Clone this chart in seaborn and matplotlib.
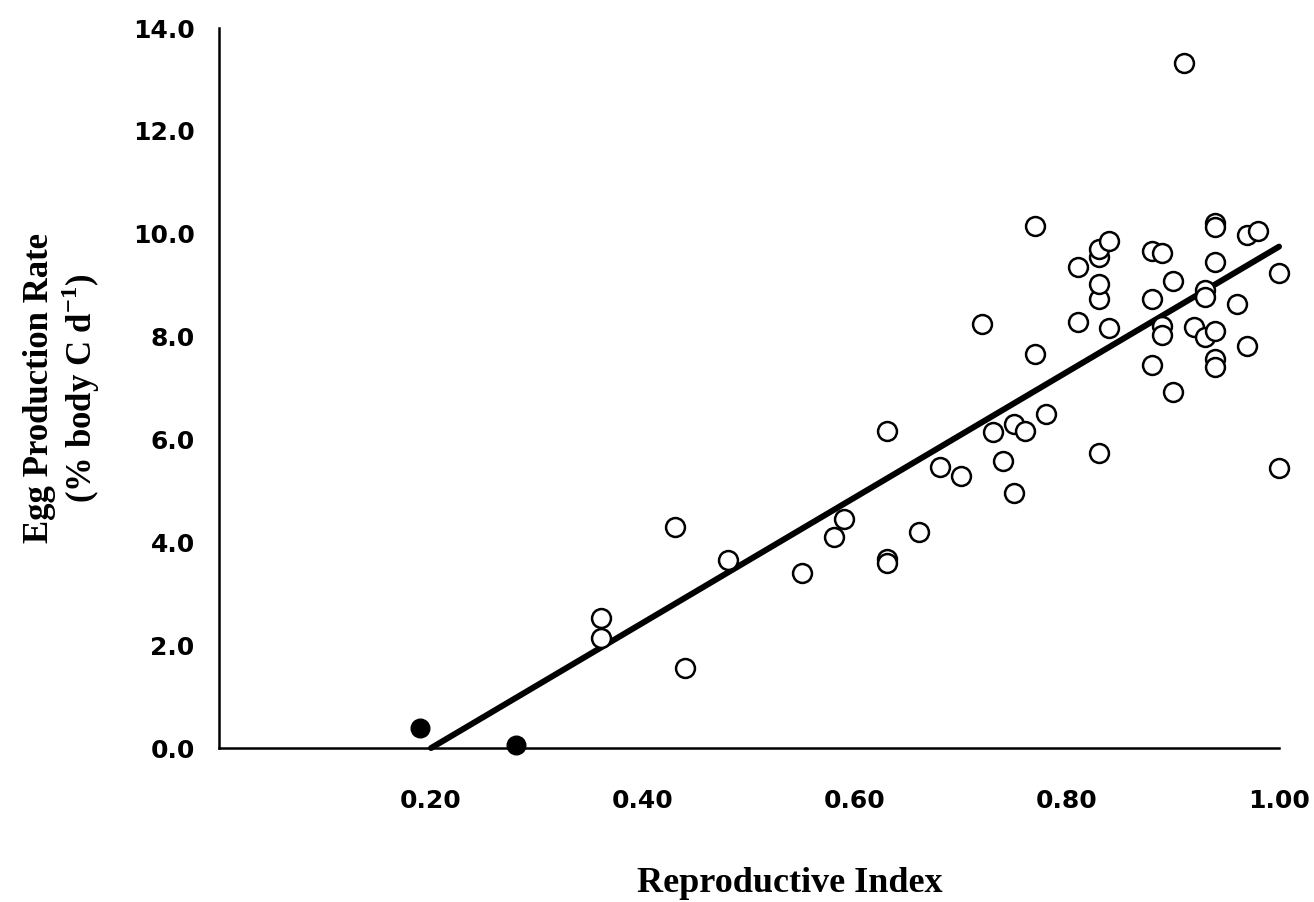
import matplotlib
matplotlib.use("Agg")
import matplotlib.pyplot as plt
import seaborn as sns
import pandas as pd

# Open circles (data)
ri_open = [0.36, 0.36, 0.43, 0.44, 0.48, 0.55, 0.58, 0.59, 0.63, 0.63, 0.63,
           0.66, 0.68, 0.70, 0.72, 0.73, 0.74, 0.75, 0.75, 0.76, 0.77, 0.77,
           0.78, 0.81, 0.81, 0.83, 0.83, 0.83, 0.83, 0.83, 0.84, 0.84, 0.88,
           0.88, 0.88, 0.89, 0.89, 0.89, 0.90, 0.90, 0.91, 0.92, 0.93, 0.93,
           0.93, 0.94, 0.94, 0.94, 0.94, 0.94, 0.94, 0.96, 0.97, 0.97, 0.98,
           1.00, 1.00]
epr_open = [2.53, 2.14, 4.30, 1.55, 3.65, 3.40, 4.10, 4.45, 6.17, 3.68, 3.60,
            4.20, 5.47, 5.29, 8.25, 6.15, 5.58, 4.95, 6.30, 6.17, 10.16, 7.67,
            6.50, 9.36, 8.29, 5.73, 8.73, 9.03, 9.55, 9.70, 9.85, 8.17, 9.67,
            8.73, 7.45, 9.63, 8.21, 8.03, 9.08, 6.93, 13.33, 8.19, 8.90, 8.77,
            7.99, 10.20, 10.13, 9.46, 8.10, 7.57, 7.41, 8.64, 9.98, 7.82, 10.06,
            9.24, 5.45]

# Filled circles
ri_filled = [0.19, 0.28]
epr_filled = [0.39, 0.06]

# Regression line end points
line_x = [0.20, 1.00]
line_y = [0.00, 9.75]

x_ticks = [0.20, 0.40, 0.60, 0.80, 1.00]
x_tick_labels = ["0.20", "0.40", "0.60", "0.80", "1.00"]
y_ticks = [0, 2, 4, 6, 8, 10, 12, 14]
y_tick_labels = ["0.0", "2.0", "4.0", "6.0", "8.0", "10.0", "12.0", "14.0"]

df_open = pd.DataFrame({"ri": ri_open, "epr": epr_open})
df_filled = pd.DataFrame({"ri": ri_filled, "epr": epr_filled})
df_line = pd.DataFrame({"ri": line_x, "epr": line_y})

sns.set_style("white")
plt.rcParams["font.family"] = ["DejaVu Sans"]
plt.rcParams["text.color"] = "black"
plt.rcParams["axes.labelcolor"] = "black"

fig = plt.figure(figsize=(13.14, 9.02), dpi=100)
ax = fig.add_axes([0.1667, 0.1707, 0.8067, 0.7982])

sns.lineplot(data=df_line, x="ri", y="epr", ax=ax, color="black",
             linewidth=4.3, zorder=2, clip_on=False)
sns.scatterplot(data=df_open, x="ri", y="epr", ax=ax, s=185, marker="o",
                facecolor="white", edgecolor="black", linewidth=1.8,
                zorder=3, clip_on=False)
sns.scatterplot(data=df_filled, x="ri", y="epr", ax=ax, s=180, marker="o",
                color="black", edgecolor="black", linewidth=1.0,
                zorder=3, clip_on=False)

ax.set_xlim(0, 1.0)
ax.set_ylim(0, 14)
ax.set_xticks(x_ticks)
ax.set_xticklabels(x_tick_labels)
ax.set_yticks(y_ticks)
ax.set_yticklabels(y_tick_labels)

for side in ["top", "right"]:
    ax.spines[side].set_visible(False)
for side in ["left", "bottom"]:
    ax.spines[side].set_color("black")
    ax.spines[side].set_linewidth(1.8)

ax.tick_params(axis="both", direction="inout", length=11, width=1.5,
               color="black", labelsize=18, labelcolor="black")
ax.tick_params(axis="x", pad=24)
ax.tick_params(axis="y", pad=12)
for lab in ax.get_xticklabels() + ax.get_yticklabels():
    lab.set_fontweight("bold")

ax.set_xlabel("Reproductive Index", fontfamily="Liberation Serif",
              fontweight="bold", fontsize=26, labelpad=36, color="black")
ax.xaxis.set_label_coords(0.538, -0.165)
ax.set_ylabel("Egg Production Rate\n(% body C d$^{\\mathregular{-1}}$)",
              fontfamily="Liberation Serif", fontweight="bold", fontsize=25,
              labelpad=22, linespacing=1.12, color="black")

fig.savefig("out.png", dpi=100, facecolor="white")
